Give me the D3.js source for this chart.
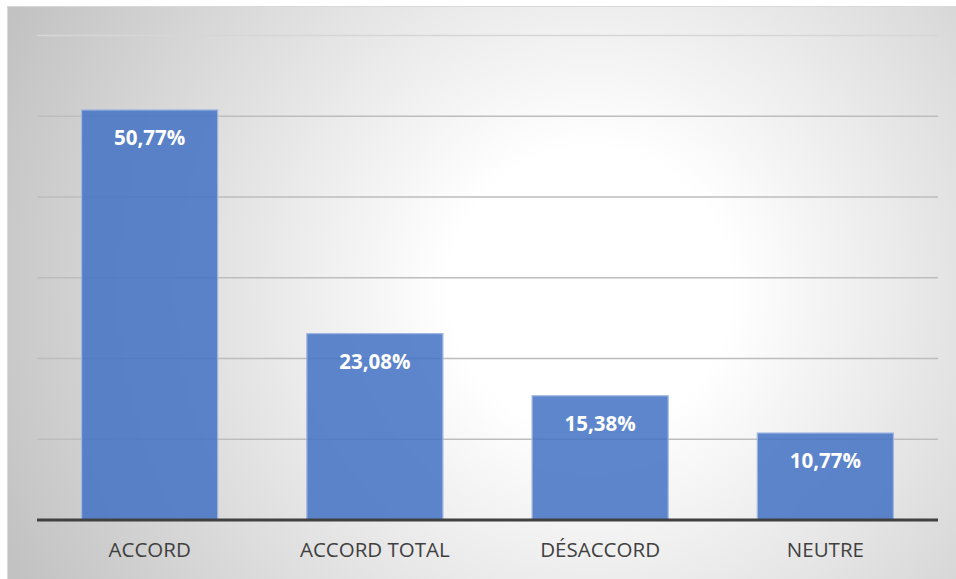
<!DOCTYPE html>
<html>
<head>
<meta charset="utf-8">
<script src="https://cdn.jsdelivr.net/npm/d3@7"></script>
<style>
  html, body { margin: 0; padding: 0; background: #ffffff; }
  svg { display: block; }
</style>
</head>
<body>
<svg id="chart" width="956" height="579"></svg>
<script>
// Survey answers and their shares (%)
const categories = ["ACCORD", "ACCORD TOTAL", "DÉSACCORD", "NEUTRE"];
const values = [50.77, 23.08, 15.38, 10.77];
const labels = ["50,77%", "23,08%", "15,38%", "10,77%"];
const gridTicks = [0, 10, 20, 30, 40, 50, 60];

const svg = d3.select("#chart");
const W = 956, H = 579;
const margin = { left: 37, right: 18, top: 35.4, bottom: 59 };
const plotRight = W - margin.right;
const plotBottom = H - margin.bottom;

// Chart area background: radial gradient, light centre fading to grey edges
const defs = svg.append("defs");
const grad = defs.append("radialGradient")
  .attr("id", "bg")
  .attr("gradientUnits", "userSpaceOnUse")
  .attr("cx", 590).attr("cy", 290).attr("r", 640);
grad.append("stop").attr("offset", "0%").attr("stop-color", "#ffffff");
grad.append("stop").attr("offset", "22%").attr("stop-color", "#ffffff");
grad.append("stop").attr("offset", "100%").attr("stop-color", "#c2c2c2");

svg.append("rect")
  .attr("x", 7).attr("y", 6)
  .attr("width", W - 7).attr("height", H - 6)
  .attr("fill", "url(#bg)");
svg.append("path")
  .attr("d", `M7.5,${H} V6.5 H${W}`)
  .attr("fill", "none")
  .attr("stroke", "#d9d9d9")
  .attr("stroke-width", 1);

const x = d3.scaleBand()
  .domain(categories)
  .range([margin.left, plotRight])
  .paddingInner(0.396)
  .paddingOuter(0.198);

const y = d3.scaleLinear()
  .domain([0, 60])
  .range([plotBottom, margin.top]);

// Horizontal gridlines
svg.append("g")
  .selectAll("line")
  .data(gridTicks.filter(d => d > 0))
  .join("line")
  .attr("x1", margin.left).attr("x2", plotRight)
  .attr("y1", d => y(d)).attr("y2", d => y(d))
  .attr("stroke", d => d === 60 ? "#d6d6d6" : "#bdbdbd")
  .attr("stroke-width", 1.5);

// Bars
svg.append("g")
  .selectAll("rect")
  .data(values)
  .join("rect")
  .attr("x", (d, i) => x(categories[i]))
  .attr("y", d => y(d))
  .attr("width", x.bandwidth())
  .attr("height", d => y(0) - y(d))
  .attr("fill", "#4472c4")
  .attr("fill-opacity", 0.86)
  .attr("stroke", "#9fb6e0")
  .attr("stroke-width", 1.2);

// Value labels inside the bars
svg.append("g")
  .selectAll("text")
  .data(values)
  .join("text")
  .attr("x", (d, i) => x(categories[i]) + x.bandwidth() / 2)
  .attr("y", d => y(d) + 35)
  .attr("text-anchor", "middle")
  .attr("font-family", "'Open Sans', 'Noto Sans', sans-serif")
  .attr("font-weight", "bold")
  .attr("font-size", 20.5)
  .attr("fill", "#ffffff")
  .text((d, i) => labels[i]);

// Baseline
svg.append("line")
  .attr("x1", margin.left).attr("x2", plotRight)
  .attr("y1", y(0)).attr("y2", y(0))
  .attr("stroke", "#404040")
  .attr("stroke-width", 3.2);

// Category axis labels
const xAxis = svg.append("g")
  .attr("transform", `translate(0,${y(0)})`)
  .call(d3.axisBottom(x).tickSize(0).tickPadding(22));
xAxis.select(".domain").remove();
xAxis.selectAll("text")
  .attr("font-family", "'Open Sans', 'Noto Sans', sans-serif")
  .attr("font-size", 20.5)
  .attr("fill", "#404040");
</script>
</body>
</html>
